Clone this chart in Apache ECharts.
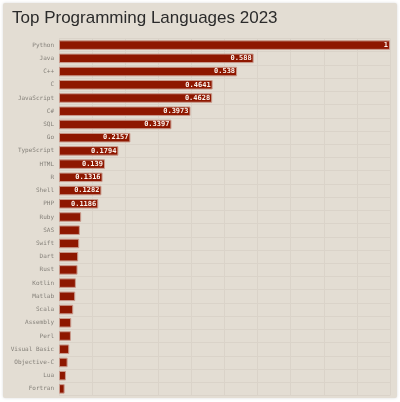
<!DOCTYPE html>
<html>
<head>
<meta charset="utf-8">
<script src="https://cdn.jsdelivr.net/npm/echarts@6/dist/echarts.min.js"></script>
<style>
html,body{margin:0;padding:0;background:#fff;}
#c{width:400px;height:402px;}
</style>
</head>
<body>
<div id="c"></div>
<script>
const languages = ["Python","Java","C++","C","JavaScript","C#","SQL","Go","TypeScript","HTML","R","Shell","PHP","Ruby","SAS","Swift","Dart","Rust","Kotlin","Matlab","Scala","Assembly","Perl","Visual Basic","Objective-C","Lua","Fortran"];
const popularity = [1,0.588,0.538,0.4641,0.4628,0.3973,0.3397,0.2157,0.1794,0.139,0.1316,0.1282,0.1186,0.067,0.063,0.061,0.058,0.056,0.051,0.049,0.043,0.037,0.036,0.031,0.026,0.021,0.017];
const labelThreshold = 0.1;

const chart = echarts.init(document.getElementById('c'), null, {renderer:'canvas'});
chart.setOption({
  backgroundColor: '#ffffff',
  animation: false,
  graphic: [{
    type: 'rect', z: -10, silent: true,
    shape: {x: 3, y: 3, width: 394, height: 395, r: 2},
    style: {fill: '#e3ddd3', shadowBlur: 3, shadowColor: 'rgba(0,0,0,0.15)'}
  }],
  title: {
    text: 'Top Programming Languages 2023',
    left: 7, top: 5,
    textStyle: {fontFamily: 'Liberation Sans, Arial, sans-serif', fontSize: 17, fontWeight: 'normal', color: '#2b2b2b'}
  },
  grid: {left: 59, right: 10, top: 38.5, bottom: 6.5, containLabel: false},
  xAxis: {
    type: 'value', min: 0, max: 1, interval: 0.1,
    axisLabel: {show: false}, axisLine: {show: false}, axisTick: {show: false},
    splitLine: {show: true, lineStyle: {color: '#dad3c9', width: 1}}
  },
  yAxis: {
    type: 'category', inverse: true, data: languages,
    axisLine: {show: false}, axisTick: {show: false},
    splitLine: {show: true, lineStyle: {color: '#dad3c9', width: 1}},
    axisLabel: {fontFamily: 'DejaVu Sans Mono, monospace', fontSize: 6, color: '#85817a', margin: 5}
  },
  series: [{
    type: 'bar',
    data: popularity,
    barWidth: '72%',
    itemStyle: {color: '#8e1700', borderColor: '#c99a8c', borderWidth: 1},
    label: {
      show: true, position: 'insideRight', distance: 2,
      fontFamily: 'DejaVu Sans Mono, monospace', fontSize: 7, fontWeight: 'bold', color: '#fbf4ee',
      formatter: p => p.value >= labelThreshold ? String(p.value) : ''
    }
  }]
});
</script>
</body>
</html>
